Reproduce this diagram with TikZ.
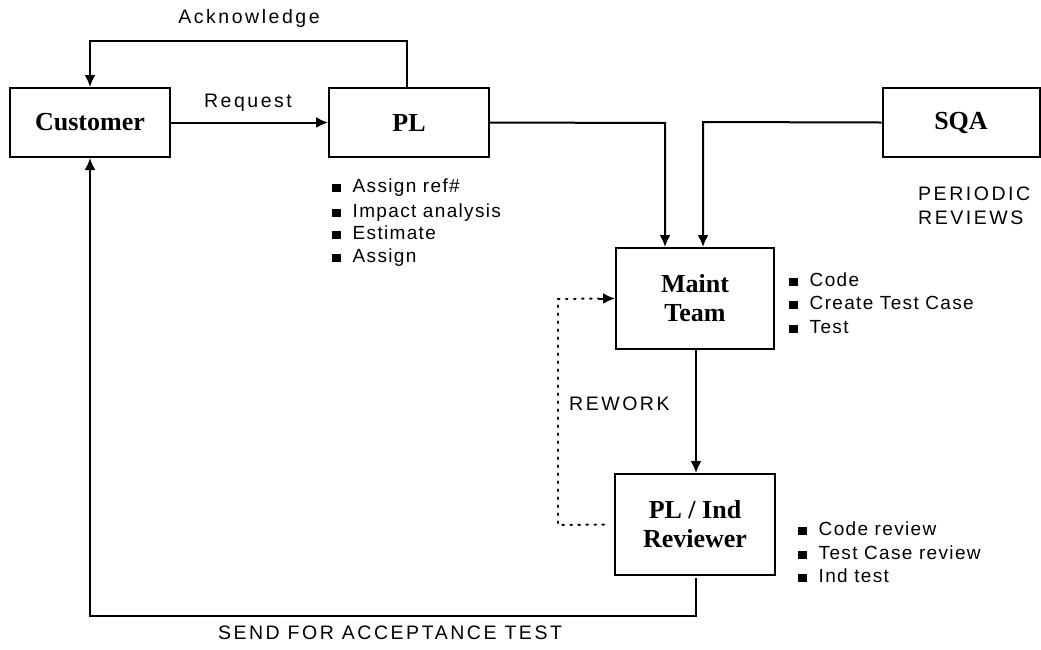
\documentclass[tikz,border=0pt]{standalone}
\usepackage{fontspec}
\setmainfont{Liberation Sans}
\newfontfamily\labfont[LetterSpace=13]{Liberation Sans}
\newfontfamily\bulfont[LetterSpace=7]{Liberation Sans}
\newfontfamily\boxfont{Liberation Serif}
\usetikzlibrary{arrows.meta}
\newcommand\bsq{\rule[0pt]{8.5pt}{8.5pt}\hspace{12pt}}
\tikzset{
  flowbox/.style={draw, line width=2pt, minimum width=160pt, minimum height=69pt, inner sep=0pt, align=center,
    font=\boxfont\bfseries\fontsize{26}{29}\selectfont},
  conn/.style={line width=2pt},
  arr/.style={conn, -{Latex[length=12pt,width=11pt]}},
  dotline/.style={line width=2pt, dash pattern=on 1.6pt off 6.4pt, line cap=round},
  lab/.style={inner sep=0pt, font=\labfont\fontsize{19.5}{22}\selectfont},
  bul/.style={inner sep=0pt, anchor=base west, font=\bulfont\fontsize{19}{22}\selectfont},
}
\begin{document}
\begin{tikzpicture}[x=1pt,y=1pt]
\useasboundingbox (0,0) rectangle (1041,-649);
\fill[white] (0,0) rectangle (1041,-649);

% boxes
\node[flowbox] (cust) at (90,-122.5) {Customer};
\node[flowbox] (pl) at (409,-122.5) {PL};
\node[flowbox, minimum width=157pt] (sqa) at (961,-122.5) {SQA};
\node[flowbox, minimum width=158pt, minimum height=101pt] (maint) at (695,-298.5) {Maint\\Team};
\node[flowbox, minimum height=101pt] (rev) at (695,-524.5) {PL / Ind\\Reviewer};

% coordinates for bends
\coordinate (ackL) at (90,-41);
\coordinate (ackR) at (407,-41);
\coordinate (plR) at (665,-123);
\coordinate (sqaL) at (703,-122);
\coordinate (botR) at (696,-616);
\coordinate (botL) at (90,-616);
\coordinate (rwB) at (558,-525);
\coordinate (rwT) at (558,-299);

% connectors
\draw[arr] ([xshift=-2pt]pl.north) -- (ackR) -- (ackL) -- (cust.north);
\draw[arr] (cust.east) -- (pl.west);
\draw[arr] (pl.east) -- (plR) -- ([xshift=-30pt]maint.north);
\draw[arr] (sqa.west) -- (sqaL) -- ([xshift=8pt]maint.north);
\draw[arr] ([xshift=1pt]maint.south) -- ([xshift=1pt]rev.north);
\draw[arr] ([xshift=1pt,yshift=-2pt]rev.south) -- (botR) -- (botL) -- (cust.south);
\draw[dotline] ([xshift=-10pt]rev.west) -- (rwB) -- (rwT) -- ([xshift=-16pt]maint.west);
\draw[arr] ([xshift=-16pt]maint.west) -- (maint.west);

% labels
\node[lab, anchor=base] (ack) at (249,-23) {Acknowledge};
\node[lab, anchor=base] (req) at (248,-107) {Request};
\node[lab, anchor=base west] (per1) at (918,-200) {PERIODIC};
\node[lab, anchor=base west] (per2) at (918,-224) {REVIEWS};
\node[lab, anchor=base west] (rework) at (569,-410) {REWORK};
\node[lab, anchor=base] (send) at (390,-639) {SEND FOR ACCEPTANCE TEST};

% bullet lists
\node[bul] (plb1) at (332,-192) {\bsq Assign ref\#};
\node[bul] (plb2) at (332,-217) {\bsq Impact analysis};
\node[bul] (plb3) at (332,-239) {\bsq Estimate};
\node[bul] (plb4) at (332,-262) {\bsq Assign};

\node[bul] (mb1) at (789,-286) {\bsq Code};
\node[bul] (mb2) at (789,-309) {\bsq Create Test Case};
\node[bul] (mb3) at (789,-333) {\bsq Test};

\node[bul] (rb1) at (798,-535) {\bsq Code review};
\node[bul] (rb2) at (798,-559) {\bsq Test Case review};
\node[bul] (rb3) at (798,-582) {\bsq Ind test};
\end{tikzpicture}
\end{document}
